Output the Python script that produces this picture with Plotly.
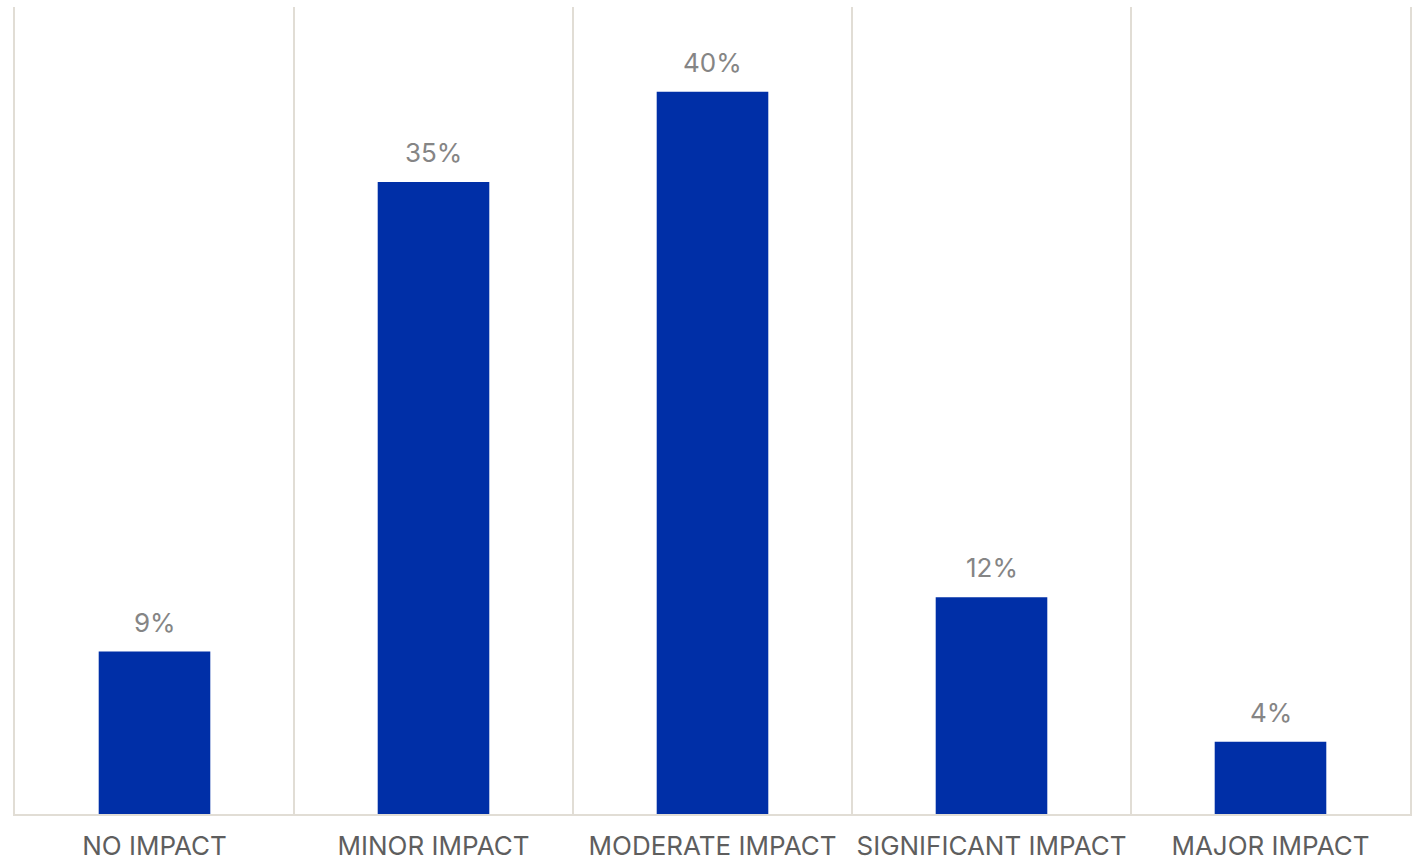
import plotly.graph_objects as go

# Share of respondents by level of impact
categories = ["NO IMPACT", "MINOR IMPACT", "MODERATE IMPACT", "SIGNIFICANT IMPACT", "MAJOR IMPACT"]
values = [9, 35, 40, 12, 4]
value_labels = [f"{v}%" for v in values]

BAR_COLOR = "#002FA7"
GRID_COLOR = "#E1DDD5"
VALUE_COLOR = "#858585"
CAT_COLOR = "#5E5E5E"
FONT = "Inter, Roboto, sans-serif"

fig = go.Figure(
    go.Bar(
        x=categories,
        y=values,
        marker=dict(color=BAR_COLOR, line=dict(width=0)),
        hoverinfo="skip",
    )
)

# Percentage labels above each bar
for cat, v, lab in zip(categories, values, value_labels):
    fig.add_annotation(
        x=cat, y=v, text=lab, showarrow=False,
        xref="x", yref="y", yanchor="bottom", yshift=12,
        font=dict(family=FONT, size=26, color=VALUE_COLOR),
    )

fig.update_layout(
    width=1417, height=860,
    margin=dict(l=15, r=7, t=7, b=46, autoexpand=False),
    paper_bgcolor="white", plot_bgcolor="white",
    bargap=0.6,
    showlegend=False,
    font=dict(family=FONT),
)
fig.update_xaxes(
    type="category",
    automargin=False,
    tickson="boundaries",
    showgrid=True, gridcolor=GRID_COLOR, gridwidth=2,
    showline=True, linecolor=GRID_COLOR, linewidth=2,
    ticks="", ticklabelstandoff=8,
    tickfont=dict(family=FONT, size=26, color=CAT_COLOR),
    range=[-0.5, 4.5],
)
fig.update_yaxes(
    automargin=False,
    range=[0, 44.7],
    showgrid=False, zeroline=False,
    showticklabels=False, ticks="",
    showline=True, linecolor=GRID_COLOR, linewidth=2, mirror=True,
)

fig.write_html("out.html")
